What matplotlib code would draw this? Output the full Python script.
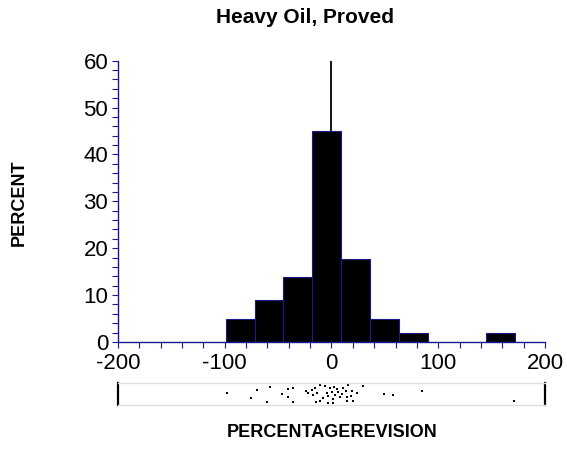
import matplotlib
matplotlib.use("Agg")
import matplotlib.pyplot as plt

plt.rcParams["font.family"] = ["Liberation Sans", "DejaVu Sans"]
plt.rcParams["axes.unicode_minus"] = False

# histogram bars (percent)
bin_lefts = [-99.2, -72.1, -45.0, -17.9, 9.2, 36.3, 63.4, 144.7]
bin_width = 27.1
percents = [4.9, 9.0, 13.9, 45.0, 17.8, 4.9, 1.9, 1.9]

# individual revisions shown in the strip below (value, vertical jitter 0..1)
rug_values = [-98.2, -75.7, -70.1, -57.6, -60.7, -46.6, -40.5, -35.8, -40.5, -36.3,
              -21.7, -18.6, -15.5, -10.8, -17.1, -13.9, -14.5, -10.8, -4.5, -1.4,
              2.3, 0.2, -3.0, 3.3, 1.1, -3.0, 1.1, 6.4, 11.1, 15.7,
              13.3, 18.9, 8.0, 14.2, 18.0, 14.2, 20.4, 29.2, 49.2, 57.9,
              84.5, 171.0, -24.0, -8.0, 5.0, -6.0, 10.0, 24.0]
rug_jitter = [0.55, 0.31, 0.67, 0.82, 0.15, 0.48, 0.70, 0.75, 0.35, 0.15,
              0.55, 0.67, 0.75, 0.90, 0.45, 0.52, 0.15, 0.19, 0.52, 0.75,
              0.79, 0.60, 0.40, 0.45, 0.26, 0.10, 0.08, 0.60, 0.75, 0.90,
              0.64, 0.64, 0.37, 0.37, 0.40, 0.19, 0.19, 0.87, 0.48, 0.43,
              0.64, 0.19, 0.62, 0.30, 0.70, 0.85, 0.50, 0.55]

navy = "#1a1a8c"

fig = plt.figure(figsize=(5.67, 4.49), dpi=100)

# main histogram
ax = fig.add_axes([0.2081, 0.2383, 0.7531, 0.6265])
ax.axvline(0, color="black", lw=1.3, zorder=1)
ax.bar(bin_lefts, percents, width=bin_width, align="edge",
       color="black", edgecolor=navy, linewidth=0.8, zorder=2)
ax.set_xlim(-200, 200)
ax.set_ylim(0, 60)
ax.set_xticks(range(-200, 201, 100))
ax.set_xticks(range(-200, 201, 20), minor=True)
ax.set_yticks(range(0, 61, 10))
ax.set_yticks(range(0, 61, 2), minor=True)
for s in ["top", "right"]:
    ax.spines[s].set_visible(False)
for s in ["left", "bottom"]:
    ax.spines[s].set_color(navy)
    ax.spines[s].set_linewidth(1.0)
ax.tick_params(which="both", direction="out", length=4, width=0.8, color=navy)
ax.tick_params(axis="x", which="major", labelsize=16, pad=4)
ax.tick_params(axis="y", which="major", labelsize=16, pad=3)

# strip of individual values
rug = fig.add_axes([0.2081, 0.098, 0.7531, 0.0497])
rug.plot(rug_values, rug_jitter, "s", color="black", markersize=1.6,
         markeredgewidth=0, linestyle="none")
rug.set_xlim(-200, 200)
rug.set_ylim(0, 1)
rug.set_xticks([])
rug.set_yticks([])
for s in ["top", "bottom"]:
    rug.spines[s].set_color("#e0e0e0")
    rug.spines[s].set_linewidth(1.0)
for s in ["left", "right"]:
    rug.spines[s].set_color("black")
    rug.spines[s].set_linewidth(1.6)

fig.text(0.538, 0.962, "Heavy Oil, Proved", ha="center", va="center",
         fontsize=15, fontweight="bold")
fig.text(0.034, 0.549, "PERCENT", rotation=90, ha="center", va="center",
         fontsize=13, fontweight="bold")
fig.text(0.585, 0.037, "PERCENTAGEREVISION", ha="center", va="center",
         fontsize=13, fontweight="bold")

fig.savefig("out.png", dpi=100)
